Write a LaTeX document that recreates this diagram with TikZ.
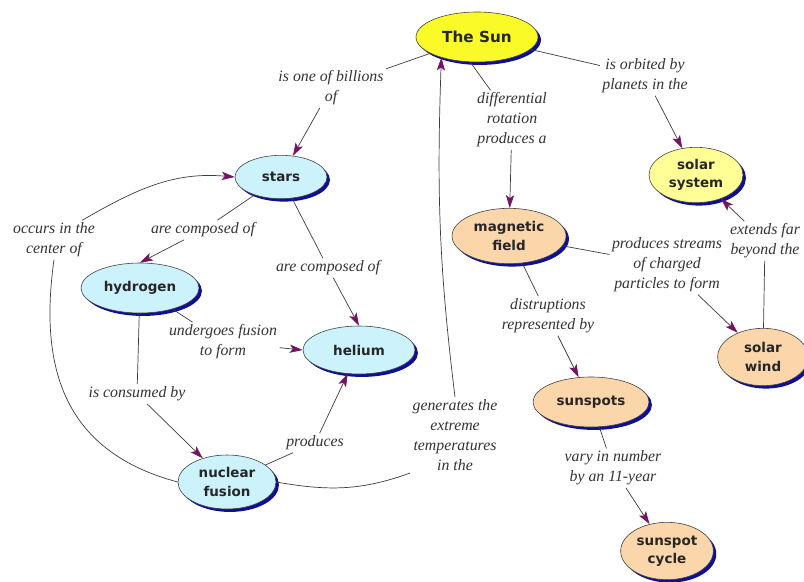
\documentclass[tikz,border=0pt]{standalone}
\usepackage{fontspec}
\usetikzlibrary{shapes.geometric,shadows,arrows.meta}
\newfontfamily\conceptfamily{DejaVu Sans}
\newfontfamily\linkfamily{Liberation Serif}
\definecolor{sunyellow}{RGB}{250,250,40}
\definecolor{paleyellow}{RGB}{255,255,150}
\definecolor{palecyan}{RGB}{204,242,252}
\definecolor{peach}{RGB}{250,214,170}
\definecolor{shadowblue}{RGB}{15,15,150}
\definecolor{linkgray}{RGB}{60,60,60}
\definecolor{tipmauve}{RGB}{115,20,100}
\tikzset{
  concept/.style={ellipse, draw=black!75, line width=0.5pt, inner sep=0pt, align=center,
    font=\conceptfamily\bfseries\fontsize{11.5}{15.5}\selectfont, text=black!85,
    drop shadow={shadow xshift=2.5pt, shadow yshift=-2.5pt, fill=shadowblue, opacity=1}},
  linklabel/.style={font=\linkfamily\itshape\fontsize{13.5}{17}\selectfont, align=center,
    inner sep=2pt, text=black!80},
  link/.style={draw=linkgray, line width=0.6pt},
  arrowlink/.style={link, -{Stealth[length=11pt, width=7pt, inset=2.5pt, color=tipmauve]}}
}

\begin{document}
\begin{tikzpicture}[x=0.03cm, y=-0.03cm]
			%%%%% START %%%%%
			\useasboundingbox (0,0) rectangle (804,581);
			\clip (0,0) rectangle (804,581);
			
			\node[concept, fill=sunyellow, minimum width=3.66cm, minimum height=1.5cm, font=\conceptfamily\bfseries\fontsize{13}{15}\selectfont] (sun) at (477,37) {The Sun};
			\node[concept, fill=palecyan, minimum width=2.76cm, minimum height=1.3cm] (stars) at (281,177) {stars};
			\node[concept, fill=palecyan, minimum width=3.54cm, minimum height=1.5cm] (hydrogen) at (140,288) {hydrogen};
			\node[concept, fill=palecyan, minimum width=3.36cm, minimum height=1.44cm] (helium) at (359,350) {helium};
			\node[concept, fill=palecyan, minimum width=2.94cm, minimum height=1.62cm] (fusion) at (227,482) {nuclear\\fusion};
			\node[concept, fill=peach, minimum width=3.42cm, minimum height=1.66cm] (field) at (509,236) {magnetic\\field};
			\node[concept, fill=paleyellow, minimum width=2.82cm, minimum height=1.66cm] (system) at (696,175) {solar\\system};
			\node[concept, fill=peach, minimum width=2.72cm, minimum height=1.72cm] (wind) at (763,357) {solar\\wind};
			\node[concept, fill=peach, minimum width=3.48cm, minimum height=1.5cm] (sunspots) at (591,402) {sunspots};
			\node[concept, fill=peach, minimum width=2.78cm, minimum height=1.72cm] (cycle) at (667,551) {sunspot\\cycle};
			
			\node[linklabel] (lbillions) at (331,88) {is one of billions\\of};
			\node[linklabel] (lrotation) at (512,120) {differential\\rotation\\produces a};
			\node[linklabel] (lorbit) at (645,76) {is orbited by\\planets in the};
			\node[linklabel] (lcenter) at (54,240) {occurs in the\\center of};
			\node[linklabel] (lcomph) at (203,230) {are composed of};
			\node[linklabel] (lcomphe) at (328,268) {are composed of};
			\node[linklabel] (lfusion) at (223,342) {undergoes fusion\\to form};
			\node[linklabel] (lconsumed) at (137,394) {is consumed by};
			\node[linklabel] (lproduces) at (315,443) {produces};
			\node[linklabel] (ltemps) at (455,435) {generates the\\extreme\\temperatures\\in the};
			\node[linklabel] (lstreams) at (667,265) {produces streams\\of charged\\particles to form};
			\node[linklabel] (lextends) at (765,241) {extends far\\beyond the};
			\node[linklabel] (ldisrupt) at (548,316) {distruptions\\represented by};
			\node[linklabel] (lvary) at (613,468) {vary in number\\by an 11-year};
			
			\draw[link] (sun) -- (lbillions);
			\draw[arrowlink] (lbillions) -- (stars);
			\draw[link] (sun.255) -- (lrotation);
			\draw[arrowlink] (lrotation) -- (field);
			\draw[link] (sun) -- (lorbit);
			\draw[arrowlink] (lorbit) -- (system);
			
			\draw[link] (stars) -- (lcomph);
			\draw[arrowlink] (lcomph) -- (hydrogen.north);
			\draw[link] (stars) -- (lcomphe);
			\draw[arrowlink] (lcomphe) -- (helium.north);
			\draw[link] (fusion.west) to[out=165, in=262, looseness=1.15] (lcenter.south);
			\draw[arrowlink] (lcenter.35) to[out=30, in=175] (stars.west);
			
			\draw[link] (hydrogen) -- (lfusion);
			\draw[arrowlink] (lfusion) -- (helium.west);
			\draw[link] (hydrogen) -- (lconsumed);
			\draw[arrowlink] (lconsumed) -- (fusion);
			\draw[link] (fusion) -- (lproduces);
			\draw[arrowlink] (lproduces) -- (helium);
			\draw[link] (fusion.east) to[out=-10, in=200] (ltemps.south west);
			\draw[arrowlink] (ltemps.north) to[out=97, in=268] (sun.210);
			
			\draw[link] (field) -- (lstreams);
			\draw[arrowlink] (lstreams) -- (wind);
			\draw[link] (wind) -- (lextends);
			\draw[arrowlink] (lextends) -- (system);
			\draw[link] (field) -- (ldisrupt);
			\draw[arrowlink] (ldisrupt) -- (sunspots);
			\draw[link] (sunspots) -- (lvary);
			\draw[arrowlink] (lvary) -- (cycle);
			
			%%%%% END %%%%%
\end{tikzpicture}
\end{document}
